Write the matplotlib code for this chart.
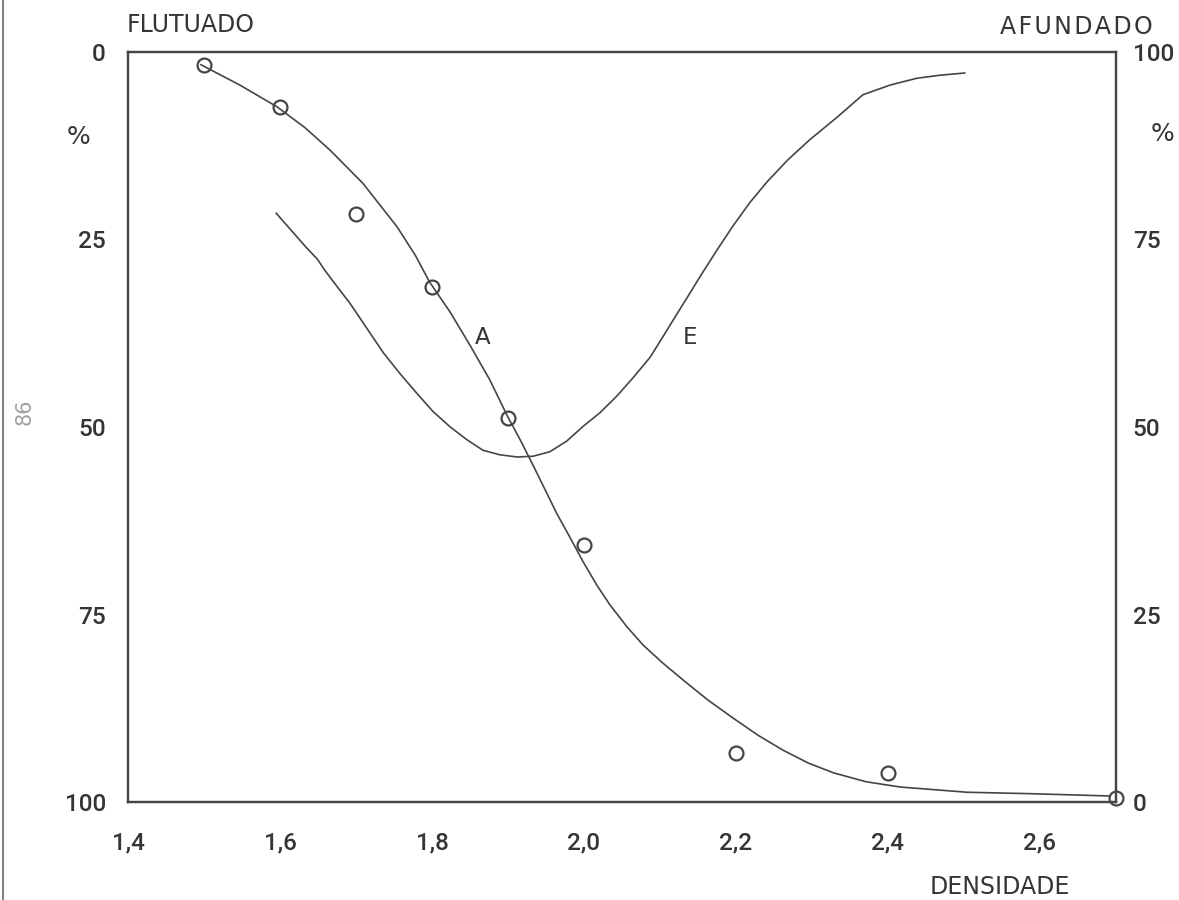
import matplotlib
matplotlib.use('Agg')
import matplotlib.pyplot as plt
from matplotlib.lines import Line2D

# ---- data ----
density_points = [1.5, 1.6, 1.7, 1.8, 1.9, 2.0, 2.2, 2.4, 2.7]
float_pct_points = [1.7, 7.3, 21.6, 31.3, 48.8, 65.7, 93.5, 96.1, 99.5]

# curve A (FLUTUADO scale, %)
curve_a_x = [1.496, 1.547, 1.596, 1.633, 1.666, 1.709, 1.754, 1.778, 1.797, 1.824,
             1.850, 1.876, 1.899, 1.916, 1.933, 1.949, 1.964, 1.982, 1.999, 2.017,
             2.034, 2.057, 2.078, 2.104, 2.130, 2.163, 2.196, 2.229, 2.262, 2.295,
             2.328, 2.371, 2.416, 2.504, 2.591, 2.692]
curve_a_y = [1.7, 4.4, 7.3, 10.1, 13.1, 17.5, 23.3, 27.1, 30.7, 34.7,
             39.1, 43.7, 48.5, 51.7, 55.1, 58.4, 61.5, 64.8, 68.0, 71.1,
             73.7, 76.7, 79.1, 81.5, 83.7, 86.4, 88.8, 91.1, 93.1, 94.8,
             96.1, 97.3, 98.0, 98.7, 98.9, 99.2]

# curve E (AFUNDADO scale, %)
curve_e_x = [1.595, 1.621, 1.634, 1.649, 1.659, 1.670, 1.692, 1.714, 1.736, 1.758,
             1.780, 1.801, 1.824, 1.846, 1.867, 1.889, 1.912, 1.933, 1.955, 1.977,
             1.999, 2.021, 2.043, 2.064, 2.087, 2.103, 2.120, 2.136, 2.153, 2.175,
             2.196, 2.218, 2.241, 2.268, 2.297, 2.333, 2.367, 2.403, 2.438, 2.468,
             2.501]
curve_e_y = [78.5, 75.5, 74.0, 72.4, 70.9, 69.4, 66.5, 63.2, 59.9, 57.1,
             54.5, 52.1, 50.0, 48.3, 46.9, 46.3, 46.0, 46.1, 46.7, 48.1,
             50.1, 51.9, 54.1, 56.5, 59.3, 61.9, 64.7, 67.3, 70.1, 73.6,
             76.8, 79.9, 82.7, 85.6, 88.3, 91.3, 94.3, 95.6, 96.5, 96.9,
             97.2]

x_ticks = [1.4, 1.6, 1.8, 2.0, 2.2, 2.4, 2.6]
x_tick_labels = ['1,4', '1,6', '1,8', '2,0', '2,2', '2,4', '2,6']
left_ticks = [0, 25, 50, 75, 100]
right_ticks = [0, 25, 50, 75, 100]

W, H = 1179, 900
INK = '#353535'
LINE = '#454545'
NUMFONT = ['Roboto', 'DejaVu Sans']
WORDFONT = ['DejaVu Sans']

fig = plt.figure(figsize=(W / 100, H / 100), dpi=100)
fig.patch.set_facecolor('white')
ax = fig.add_axes([128 / W, 1 - 802 / H, (1116 - 128) / W, (802 - 52) / H])
ax2 = ax.twinx()

ax.set_xlim(1.4, 2.7)
ax.set_ylim(100, 0)
ax2.set_ylim(0, 100)

ax.plot(curve_a_x, curve_a_y, color=LINE, lw=1.2, zorder=2, solid_joinstyle='round')
ax2.plot(curve_e_x, curve_e_y, color=LINE, lw=1.2, zorder=2, solid_joinstyle='round')
ax.plot(density_points, float_pct_points, linestyle='none', marker='o', ms=10,
        mfc='none', mec=LINE, mew=1.6, zorder=3, clip_on=False)

ax.set_xticks(x_ticks)
ax.set_xticklabels(x_tick_labels)
ax.set_yticks(left_ticks)
ax2.set_yticks(right_ticks)

for a in (ax, ax2):
    for s in a.spines.values():
        s.set_color(LINE)
        s.set_linewidth(1.6)
    a.tick_params(length=0, colors=INK, labelsize=17.5)
    for lab in a.get_xticklabels() + a.get_yticklabels():
        lab.set_family(NUMFONT)
        lab.set_fontweight('medium')
ax.tick_params(axis='x', pad=21)
ax.tick_params(axis='y', pad=16)
ax2.tick_params(axis='y', pad=12)

ax.text(1.867, 38.1, 'A', fontsize=16.5, color=INK, family=WORDFONT, ha='center', va='center')
ax.text(2.139, 38.1, 'E', fontsize=16.5, color=INK, family=WORDFONT, ha='center', va='center')

fig.text(127 / W, 1 - 25 / H, 'FLUTUADO', fontsize=17, color=INK, family=WORDFONT,
         ha='left', va='center')
fig.text(1153 / W, 1 - 27 / H, 'A\u200aF\u200aU\u200aN\u200aD\u200aA\u200aD\u200aO', fontsize=17,
         color=INK, family=WORDFONT, ha='right', va='center')
fig.text(1000 / W, 1 - 887 / H, 'DENSIDADE', fontsize=17, color=INK, family=WORDFONT,
         ha='center', va='center')
fig.text(79 / W, 1 - 137 / H, '%', fontsize=18, color=INK, family=WORDFONT,
         ha='center', va='center')
fig.text(1162 / W, 1 - 134 / H, '%', fontsize=18, color=INK, family=WORDFONT,
         ha='center', va='center')
fig.text(25 / W, 1 - 412 / H, '86', fontsize=15, color='#a0a0a0', family=WORDFONT,
         rotation=90, ha='center', va='center')

fig.add_artist(Line2D([3 / W, 3 / W], [0, 1], color='#808080', lw=1.5))

fig.savefig('out.png', dpi=100, facecolor='white')
